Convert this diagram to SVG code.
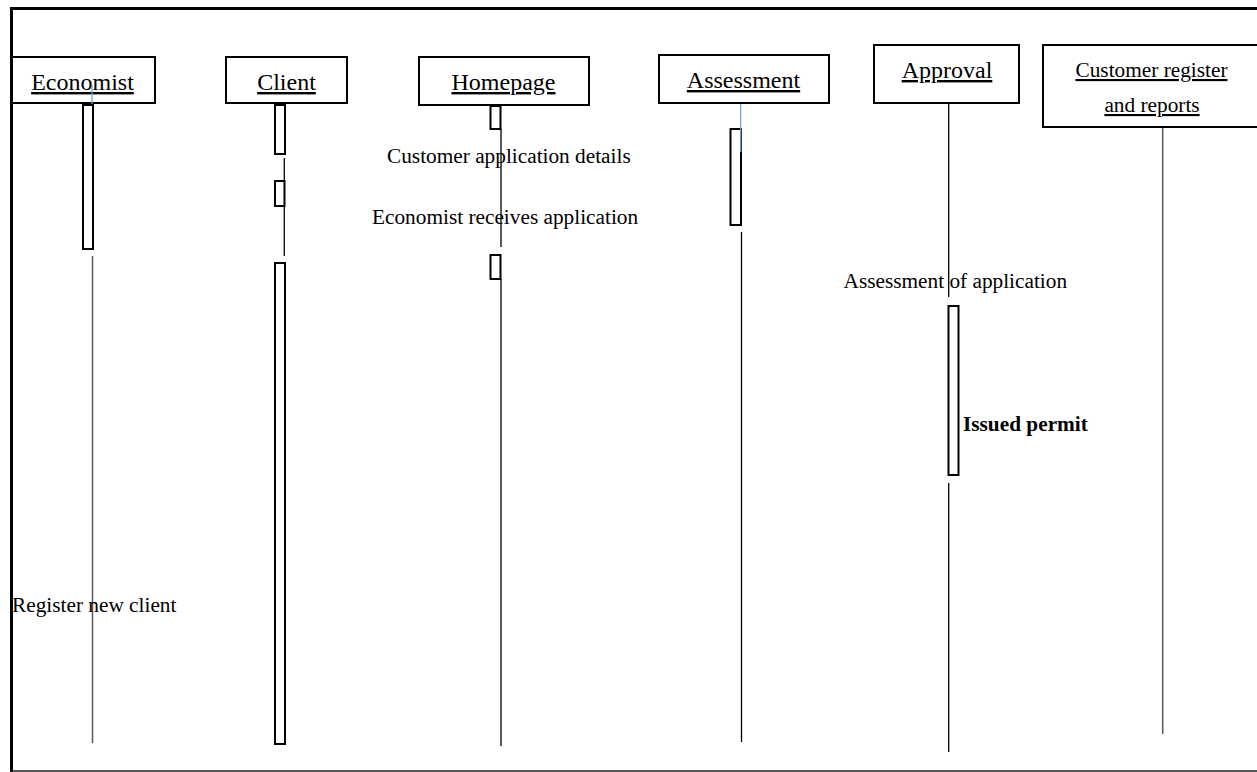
<svg xmlns="http://www.w3.org/2000/svg" width="1257" height="772" viewBox="0 0 1257 772">
<style>
.box{fill:#fff;stroke:#000;stroke-width:2}
.act{fill:#fff;stroke:#000;stroke-width:2}
.name{font-family:"Liberation Serif","Times New Roman",serif;font-size:24px;fill:#000;text-anchor:middle;text-decoration:underline}
.name2{font-family:"Liberation Serif","Times New Roman",serif;font-size:21.3px;fill:#000;text-anchor:middle;text-decoration:underline}
.lbl{font-family:"Liberation Serif","Times New Roman",serif;font-size:21.3px;fill:#000}
.life{stroke:#000;stroke-width:1.3;fill:none}
.lifeg{stroke:#595959;stroke-width:1.5;fill:none}
.blue{stroke:#6fa8dc;stroke-width:1.3;fill:none}
</style>
<rect x="0" y="0" width="1257" height="772" fill="#fff"/>
<g id="frame">
<line x1="10" y1="8.5" x2="1257" y2="8.5" stroke="#000" stroke-width="3"/>
<line x1="11.5" y1="7" x2="11.5" y2="772" stroke="#000" stroke-width="3"/>
<line x1="10" y1="771" x2="1257" y2="771" stroke="#222" stroke-width="1.5"/>
</g>
<g id="connectors">
<line class="lifeg" x1="92.5" y1="256" x2="92.5" y2="743"/>
<line class="life" x1="284.3" y1="158" x2="284.3" y2="180"/>
<line class="life" x1="284.3" y1="206" x2="284.3" y2="256"/>
<line class="life" x1="501" y1="129" x2="501" y2="247"/>
<line class="life" x1="501" y1="279" x2="501" y2="746"/>
<line class="life" x1="741.5" y1="232" x2="741.5" y2="742"/>
<line class="life" x1="948.7" y1="103" x2="948.7" y2="297"/>
<line class="life" x1="948.7" y1="483" x2="948.7" y2="752"/>
<line class="lifeg" x1="1162.7" y1="127" x2="1162.7" y2="734"/>
</g>
<g id="economist">
<rect class="box" x="12" y="57" width="143" height="46"/>
<text class="name" x="82.5" y="90">Economist</text>
<line class="blue" x1="92" y1="85" x2="92" y2="105"/>
<rect class="act" x="83" y="105" width="10" height="144"/>
</g>
<g id="client">
<rect class="box" x="226" y="57" width="121" height="46"/>
<text class="name" x="286.5" y="90">Client</text>
<rect class="act" x="275" y="105" width="10" height="49"/>
<rect class="act" x="275" y="181" width="9.5" height="25"/>
<rect class="act" x="275" y="263" width="10" height="481"/>
</g>
<g id="homepage">
<rect class="box" x="419" y="57" width="170" height="48"/>
<text class="name" x="503.5" y="90">Homepage</text>
<rect class="act" x="490.5" y="106" width="10" height="23"/>
<rect class="act" x="490.5" y="255" width="10" height="24"/>
</g>
<g id="assessment">
<rect class="box" x="659" y="55" width="170" height="48"/>
<text class="name" x="743.5" y="88">Assessment</text>
<rect class="act" x="730.5" y="129" width="10.5" height="96"/>
<line class="blue" x1="740.7" y1="104" x2="740.7" y2="152"/>
</g>
<g id="approval">
<rect class="box" x="874" y="45" width="145" height="58"/>
<text class="name" x="947" y="78">Approval</text>
<rect class="act" x="948.5" y="306" width="10" height="169"/>
</g>
<g id="customer-register">
<rect class="box" x="1043" y="45" width="230" height="82"/>
<text class="name2" x="1151.5" y="77">Customer register</text>
<text class="name2" x="1152" y="112">and reports</text>
</g>
<g id="labels">
<text class="lbl" x="387" y="163">Customer application details</text>
<text class="lbl" x="372" y="224">Economist receives application</text>
<text class="lbl" x="843.5" y="288">Assessment of application</text>
<text class="lbl" x="963" y="431" font-weight="bold">Issued permit</text>
<text class="lbl" x="12" y="612">Register new client</text>
</g>
</svg>
